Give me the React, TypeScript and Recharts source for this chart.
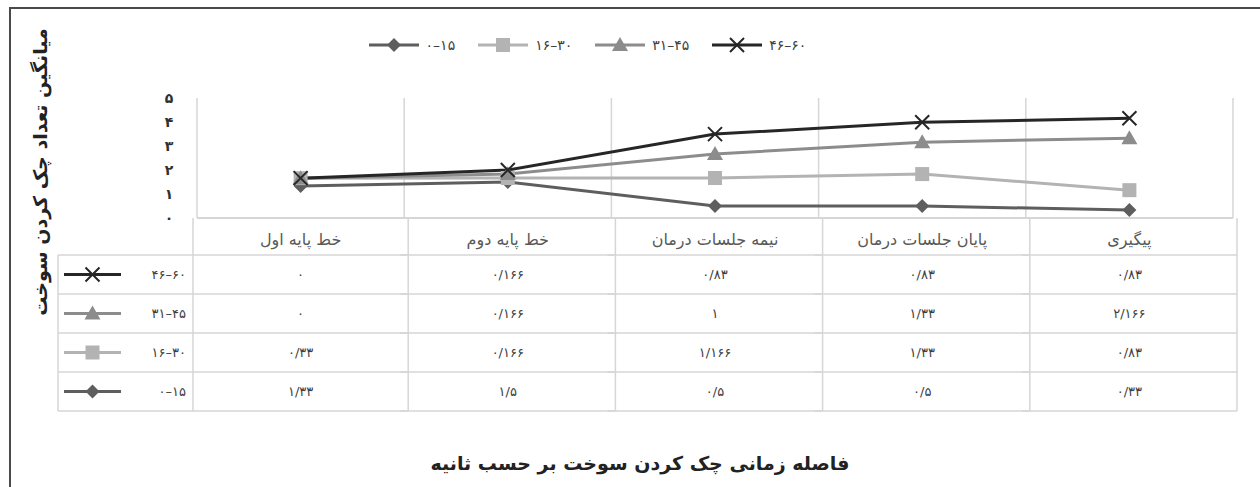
import { Area, CartesianGrid, ComposedChart, Legend, XAxis, YAxis } from "recharts";

// time points (table columns, left to right)
const categories = ["خط پایه اول", "خط پایه دوم", "نیمه جلسات درمان", "پایان جلسات درمان", "پیگیری"];

// mean fuel-check counts per age group
const age0to15 = [1.33, 1.5, 0.5, 0.5, 0.33];
const age16to30 = [0.33, 0.166, 1.166, 1.33, 0.83];
const age31to45 = [0, 0.166, 1, 1.33, 2.166];
const age46to60 = [0, 0.166, 0.83, 0.83, 0.83];

const seriesNames = ["۰–۱۵", "۱۶–۳۰", "۳۱–۴۵", "۴۶–۶۰"];
const yTicks = [0, 1, 2, 3, 4, 5];

const yTitle = "میانگین تعداد چک کردن سوخت";
const xTitle = "فاصله زمانی چک کردن سوخت بر حسب ثانیه";

type MarkerKind = "diamond" | "square" | "triangle" | "cross";

const SERIES: { key: string; name: string; values: number[]; color: string; marker: MarkerKind }[] = [
  { key: "a0", name: seriesNames[0], values: age0to15, color: "#5e5e5e", marker: "diamond" },
  { key: "a1", name: seriesNames[1], values: age16to30, color: "#b3b3b3", marker: "square" },
  { key: "a2", name: seriesNames[2], values: age31to45, color: "#8c8c8c", marker: "triangle" },
  { key: "a3", name: seriesNames[3], values: age46to60, color: "#262626", marker: "cross" },
];

const data = categories.map((name, i) => {
  const row: Record<string, string | number> = { name };
  SERIES.forEach((s) => (row[s.key] = s.values[i]));
  return row;
});

const W = 1260;
const H = 487;
const MARGIN = { top: 98, right: 27, bottom: 69, left: 157 };
const PLOT_W = W - MARGIN.left - MARGIN.right;
const HEADER_H = 37;
const ROW_H = 39;
const LABEL_COL_W = 135;
const GRID = "#d6d6d6";
const FONT = "'DejaVu Sans', sans-serif";

const faDigits = "۰۱۲۳۴۵۶۷۸۹";
const toFa = (v: number | string) =>
  String(v)
    .replace(/\d/g, (d) => faDigits[Number(d)])
    .replace(".", "/");

function Marker({ kind, cx, cy, color }: { kind: MarkerKind; cx: number; cy: number; color: string }) {
  switch (kind) {
    case "diamond":
      return <path d={`M${cx} ${cy - 7}L${cx + 7} ${cy}L${cx} ${cy + 7}L${cx - 7} ${cy}Z`} fill={color} />;
    case "square":
      return <rect x={cx - 7} y={cy - 7} width={14} height={14} fill={color} />;
    case "triangle":
      return <path d={`M${cx} ${cy - 8}L${cx + 8} ${cy + 6}L${cx - 8} ${cy + 6}Z`} fill={color} />;
    default:
      return (
        <path
          d={`M${cx - 7} ${cy - 7}L${cx + 7} ${cy + 7}M${cx + 7} ${cy - 7}L${cx - 7} ${cy + 7}`}
          stroke={color}
          strokeWidth={2}
          fill="none"
        />
      );
  }
}

// little line + marker sample, used in the legend and the table row headers
function Sample({ s, x, y, len }: { s: (typeof SERIES)[number]; x: number; y: number; len: number }) {
  return (
    <g>
      <line x1={x} y1={y} x2={x + len} y2={y} stroke={s.color} strokeWidth={3} />
      <Marker kind={s.marker} cx={x + len / 2} cy={y} color={s.color} />
    </g>
  );
}

function LegendContent() {
  return (
    <div style={{ display: "flex", justifyContent: "center", alignItems: "center", fontFamily: FONT }}>
      {SERIES.map((s) => (
        <div key={s.key} style={{ display: "flex", alignItems: "center", marginRight: 22 }}>
          <svg width={52} height={18}>
            <Sample s={s} x={1} y={9} len={50} />
          </svg>
          <span style={{ marginLeft: 6, fontSize: 14, color: "#404040" }}>{s.name}</span>
        </div>
      ))}
    </div>
  );
}

function YTick({ x, y, payload }: any) {
  return (
    <text x={x - 28} y={y} textAnchor="middle" dominantBaseline="central" fontSize={14} fontWeight="bold" fill="#303030">
      {toFa(payload.value)}
    </text>
  );
}

// each x tick draws its own column of the data table underneath the plot
function TableTick({ x, y, payload, index }: any) {
  const colW = PLOT_W / categories.length;
  const left = x - colW / 2;
  const right = x + colW / 2;
  const bottom = y + HEADER_H + ROW_H * SERIES.length;
  const rows = [...SERIES].reverse();
  const rowY = (r: number) => y + HEADER_H + r * ROW_H;

  return (
    <g>
      <text x={x} y={y + 21} textAnchor="middle" dominantBaseline="central" fontSize={16} fill="#595959">
        {payload.value}
      </text>
      {rows.map((s, r) => (
        <g key={s.key}>
          <line x1={left} x2={right} y1={rowY(r)} y2={rowY(r)} stroke={GRID} strokeWidth={1.5} />
          <text x={x} y={rowY(r) + ROW_H / 2} textAnchor="middle" dominantBaseline="central" fontSize={13} fill="#404040">
            {toFa(s.values[index])}
          </text>
        </g>
      ))}
      <line x1={left} x2={right} y1={bottom} y2={bottom} stroke={GRID} strokeWidth={1.5} />
      <line x1={right} x2={right} y1={y} y2={bottom} stroke={GRID} strokeWidth={1.5} />
      {index === 0 && (
        <g>
          <line x1={left} x2={left} y1={y} y2={bottom} stroke={GRID} strokeWidth={1.5} />
          <line x1={left - LABEL_COL_W} x2={left - LABEL_COL_W} y1={rowY(0)} y2={bottom} stroke={GRID} strokeWidth={1.5} />
          {rows.map((s, r) => (
            <g key={s.key}>
              <line x1={left - LABEL_COL_W} x2={left} y1={rowY(r)} y2={rowY(r)} stroke={GRID} strokeWidth={1.5} />
              <Sample s={s} x={left - LABEL_COL_W + 6} y={rowY(r) + ROW_H / 2} len={57} />
              <text x={left - 7} y={rowY(r) + ROW_H / 2} textAnchor="end" dominantBaseline="central" fontSize={13} fill="#404040">
                {s.name}
              </text>
            </g>
          ))}
          <line x1={left - LABEL_COL_W} x2={left} y1={bottom} y2={bottom} stroke={GRID} strokeWidth={1.5} />
        </g>
      )}
    </g>
  );
}

export default function App() {
  return (
    <div style={{ position: "absolute", left: 0, top: 0, width: W, height: H, overflow: "hidden", background: "#fff", fontFamily: FONT }}>
      <div
        style={{
          position: "absolute",
          left: 9,
          top: 7,
          width: W,
          height: H,
          borderTop: "2px solid #4a4a4a",
          borderLeft: "2px solid #4a4a4a",
        }}
      />
      <ComposedChart width={W} height={H} data={data} margin={MARGIN}>
        <CartesianGrid
          horizontal={false}
          stroke={GRID}
          strokeWidth={1.5}
          verticalCoordinatesGenerator={({ offset }: any) =>
            [0, 1, 2, 3, 4, 5].map((i) => offset.left + (i * offset.width) / categories.length)
          }
        />
        <XAxis
          dataKey="name"
          scale="band"
          height={200}
          tickSize={0}
          tickMargin={0}
          tickLine={false}
          axisLine={{ stroke: GRID, strokeWidth: 2 }}
          interval={0}
          tick={<TableTick />}
        />
        <YAxis
          width={40}
          domain={[0, 5]}
          ticks={yTicks}
          tickSize={0}
          tickMargin={0}
          tickLine={false}
          axisLine={false}
          tick={<YTick />}
        />
        <Legend
          layout="horizontal"
          verticalAlign="middle"
          content={<LegendContent />}
          wrapperStyle={{ top: 36, left: 0, width: 1196 }}
        />
        {SERIES.map((s) => (
          <Area
            key={s.key}
            type="linear"
            dataKey={s.key}
            name={s.name}
            stackId="ages"
            stroke={s.color}
            strokeWidth={3}
            fill="none"
            activeDot={false}
            dot={(p: any) => <Marker key={`${s.key}-${p.index}`} kind={s.marker} cx={p.cx} cy={p.cy} color={s.color} />}
            isAnimationActive={false}
          />
        ))}
      </ComposedChart>
      <div
        style={{
          position: "absolute",
          left: 40,
          top: 172,
          transform: "translate(-50%, -50%) rotate(-90deg)",
          whiteSpace: "nowrap",
          fontWeight: "bold",
          fontSize: 19,
          color: "#222",
          direction: "rtl",
        }}
      >
        {yTitle}
      </div>
      <div
        style={{
          position: "absolute",
          left: 10,
          top: 452,
          width: W,
          textAlign: "center",
          fontWeight: "bold",
          fontSize: 19,
          color: "#222",
          direction: "rtl",
        }}
      >
        {xTitle}
      </div>
    </div>
  );
}
